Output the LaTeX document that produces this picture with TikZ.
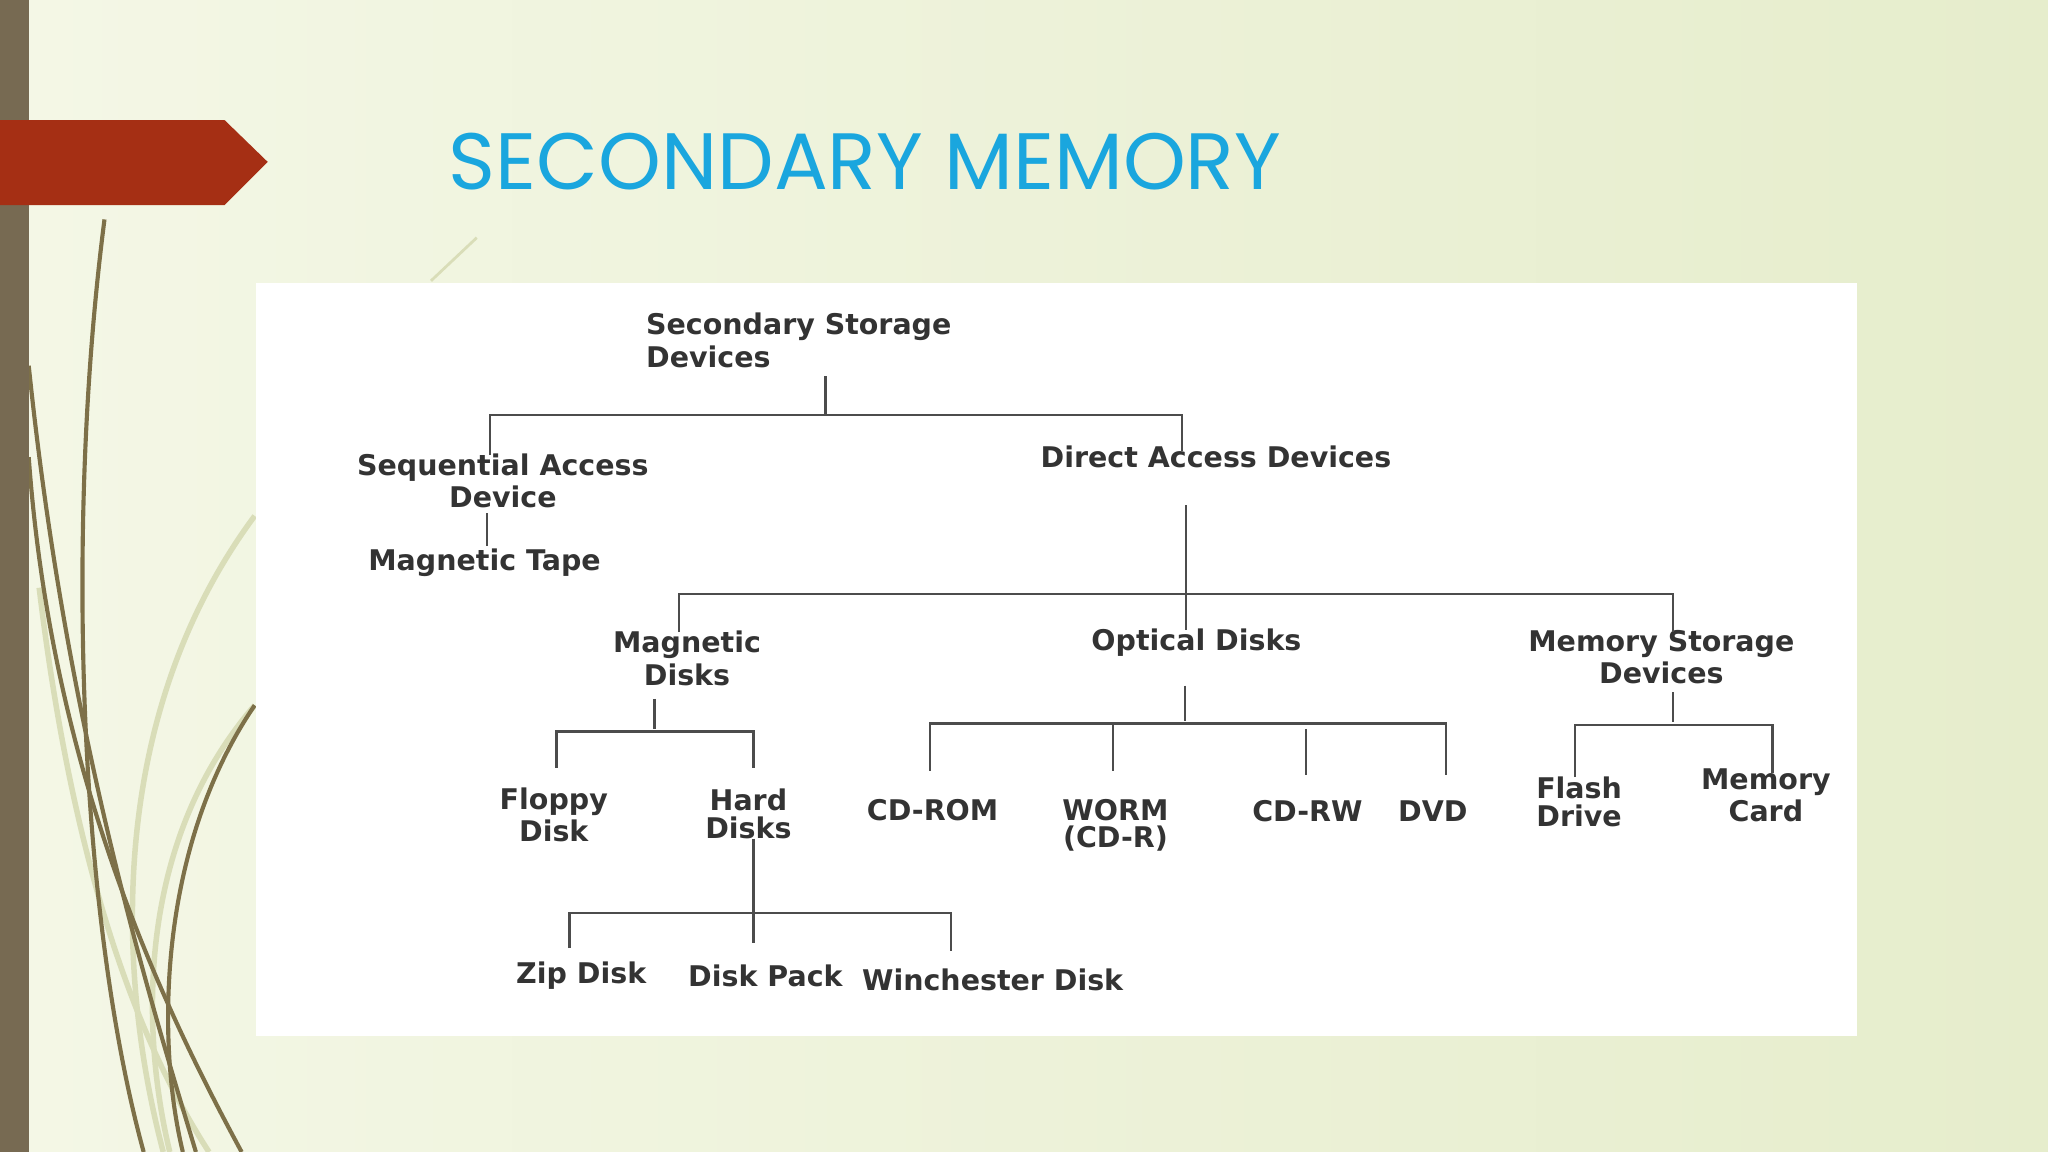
\documentclass[tikz,border=0pt]{standalone}
\usepackage{fontspec}
\setmainfont{DejaVu Sans}
\newfontfamily\titlefont{Poppins}
\definecolor{bgl}{HTML}{F4F7E6}
\definecolor{bgm}{HTML}{F7F9EE}
\definecolor{bgr}{HTML}{E6EDCC}
\definecolor{barc}{HTML}{776A52}
\definecolor{arrc}{HTML}{A52F14}
\definecolor{titc}{HTML}{1AA6DE}
\definecolor{grc}{HTML}{7D7048}
\definecolor{grl}{HTML}{D9DDB8}
\begin{document}
\begin{tikzpicture}[x=0.01cm,y=-0.01cm,
  lbl/.style={font=\fontsize{6.2}{6}\selectfont\bfseries, text=black!80, align=center, inner sep=0pt},
  ln/.style={draw=black!70, line width=0.5pt},
  grass/.style={draw=grc, line width=0.9pt},
  grassl/.style={draw=grl, line width=1.2pt}]
\useasboundingbox (0,0) rectangle (1568,882);
\shade[left color=bgl, middle color=bgm, right color=bgr] (0,0) rectangle (1568,882);
% grass
\draw[grassl] (30,450) .. controls (60,700) and (120,820) .. (160,882);
\draw[grassl] (195,395) .. controls (80,550) and (90,750) .. (125,882);
\draw[grassl] (195,540) .. controls (100,650) and (110,800) .. (130,882);
\draw[grass] (80,168) .. controls (50,400) and (60,700) .. (110,882);
\draw[grass] (22,280) .. controls (50,550) and (110,750) .. (150,882);
\draw[grass] (22,350) .. controls (40,600) and (130,780) .. (185,882);
\draw[grass] (195,540) .. controls (120,650) and (120,800) .. (140,882);
\draw[grassl, line width=0.6pt] (330,215) -- (365,182);
% left bar and arrow
\fill[barc] (0,0) rectangle (22,882);
\fill[arrc] (0,92) -- (172,92) -- (205,124) -- (172,157) -- (0,157) -- cycle;
\node[font=\titlefont\fontsize{17.4}{20}\selectfont, text=titc, anchor=west, inner sep=0pt] (title) at (343,124) {SECONDARY MEMORY};
% panel
\fill[white] (196,217) rectangle (1422,793);
% nodes
\node[lbl, align=left, anchor=north west] (root) at (494,239) {Secondary Storage\\Devices};
\node[lbl] (seq) at (385,368) {Sequential Access\\Device};
\node[lbl] (tape) at (371,431) {Magnetic Tape};
\node[lbl] (dad) at (931,350) {Direct Access Devices};
\node[lbl] (mag) at (526,504) {Magnetic\\Disks};
\node[lbl] (opt) at (916,492) {Optical Disks};
\node[lbl] (msd) at (1272,503) {Memory Storage\\Devices};
\node[lbl] (flop) at (424,624) {Floppy\\Disk};
\node[lbl] (hard) at (573,623) {Hard\\Disks};
\node[lbl] (zip) at (445,747) {Zip Disk};
\node[lbl] (pack) at (586,747) {Disk Pack};
\node[lbl] (win) at (760,750) {Winchester Disk};
\node[lbl] (cdrom) at (714,620) {CD-ROM};
\node[lbl] (worm) at (854,632) {WORM\\(CD-R)};
\node[lbl] (cdrw) at (1001,621) {CD-RW};
\node[lbl] (dvd) at (1097,621) {DVD};
\node[lbl] (flash) at (1209,614) {Flash\\Drive};
\node[lbl] (card) at (1352,609) {Memory\\Card};
% connectors
\draw[ln] (632,288) -- (632,318) (375,348) |- (905,318) -- (905,345);
\draw[ln] (373,393) -- (373,418);
\draw[ln] (908,387) -- (908,482) (520,484) |- (1281,455) -- (1281,484);
\draw[ln] (501,535) -- (501,558) (426,588) |- (577,560) -- (577,588);
\draw[ln] (577,642) -- (577,722) (436,726) |- (728,699) -- (728,728);
\draw[ln] (907,525) -- (907,552) (712,590) |- (1107,554) -- (1107,593) (852,554) -- (852,590) (1000,558) -- (1000,593);
\draw[ln] (1281,530) -- (1281,553) (1206,595) |- (1357,555) -- (1357,592);
\end{tikzpicture}
\end{document}
